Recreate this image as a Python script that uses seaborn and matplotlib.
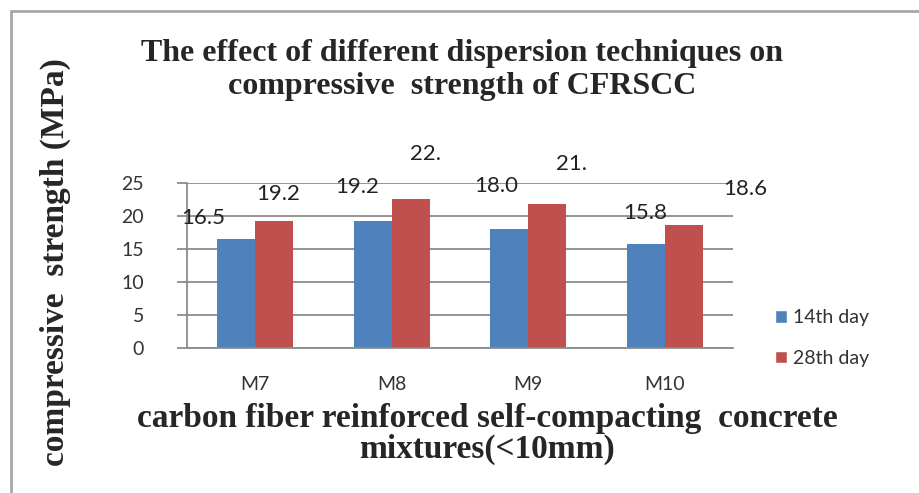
import pandas as pd
import seaborn as sns
import matplotlib.pyplot as plt
from matplotlib.patches import Patch
from matplotlib.lines import Line2D

# values
mixtures = ["M7", "M8", "M9", "M10"]
series = ["14th day", "28th day"]
day14 = [16.5, 19.2, 18.0, 15.8]
day28 = [19.2, 22.5, 21.8, 18.6]
# data labels as printed (two are cut off in the original)
labels14 = ["16.5", "19.2", "18.0", "15.8"]
labels28 = ["19.2", "22.", "21.", "18.6"]
yticks = [0, 5, 10, 15, 20, 25]

# label offsets (pixels) from each bar top, labels were dragged around in Excel
off14 = [(-33, 21), (-15, 34), (-13, 43), (0, 31)]
off28 = [(4, 27), (15, 45), (24, 40), (61, 36)]

BLUE = "#4F81BD"
RED = "#C0504D"
GRID = "#8C8C8C"

df = pd.DataFrame({
    "mixture": mixtures * 2,
    "strength": day14 + day28,
    "day": [series[0]] * len(mixtures) + [series[1]] * len(mixtures),
})

sns.set_style("white")
plt.rcParams['font.family'] = ['Lato', 'DejaVu Sans']

fig = plt.figure(figsize=(9.2, 4.93), dpi=100)
ax = fig.add_axes([187 / 920, 1 - 348 / 493, 546 / 920, 165 / 493])

sns.barplot(data=df, x="mixture", y="strength", hue="day", order=mixtures,
            hue_order=series, palette=[BLUE, RED], width=0.56, saturation=1,
            linewidth=0, legend=False, ax=ax)

ax.set_ylim(0, 25)
ax.set_xlim(-0.5, 3.5)
ax.set_yticks(yticks)
ax.yaxis.grid(True, color=GRID, lw=1.3)
ax.set_axisbelow(True)
for s in ["top", "right"]:
    ax.spines[s].set_visible(False)
for s in ["left", "bottom"]:
    ax.spines[s].set_color(GRID)
    ax.spines[s].set_linewidth(1.3)
ax.tick_params(axis="y", length=7, width=1.3, color=GRID, pad=24,
               labelsize=14, labelcolor="#333333", left=True)
ax.tick_params(axis="x", length=0, pad=20, labelsize=14, labelcolor="#333333")
ax.set_xlabel("")
ax.set_ylabel("")

# data labels
for cont, labs, offs in zip(ax.containers, [labels14, labels28], [off14, off28]):
    for bar, lab, (dx, dy) in zip(cont, labs, offs):
        ax.annotate(lab, (bar.get_x() + bar.get_width() / 2, bar.get_height()),
                    xytext=(dx, dy), textcoords="offset pixels",
                    ha="center", va="center", fontsize=16, color="#222222",
                    annotation_clip=False)

serif = ["Liberation Serif", "DejaVu Serif"]
fig.text(462 / 920, 1 - 70 / 493,
         "The effect of different dispersion techniques on\ncompressive  strength of CFRSCC",
         ha="center", va="center", fontsize=23, fontweight="bold",
         family=serif, linespacing=1.15)
fig.text(487 / 920, 1 - 434 / 493,
         "carbon fiber reinforced self-compacting  concrete\nmixtures(<10mm)",
         ha="center", va="center", fontsize=24, fontweight="bold",
         family=serif, linespacing=1.0)
fig.text(55 / 920, 1 - 262 / 493, "compressive  strength (MPa)", rotation=90,
         ha="center", va="center", fontsize=24, fontweight="bold", family=serif)

handles = [Patch(facecolor=BLUE, label=series[0]), Patch(facecolor=RED, label=series[1])]
fig.legend(handles=handles, loc="upper left", bbox_to_anchor=(758 / 920, 1 - 292 / 493),
           frameon=False, fontsize=14, handlelength=0.6, handleheight=0.6,
           handletextpad=0.3, labelspacing=1.2, labelcolor="#333333")

# grey frame on the left and top like the pasted screenshot
fig.add_artist(Line2D([11 / 920, 11 / 920], [0, 1 - 11 / 493], color="#A8A8A8", lw=2,
                      transform=fig.transFigure))
fig.add_artist(Line2D([11 / 920, 1], [1 - 11 / 493, 1 - 11 / 493], color="#A8A8A8", lw=2,
                      transform=fig.transFigure))

fig.savefig("out.png", dpi=100)
